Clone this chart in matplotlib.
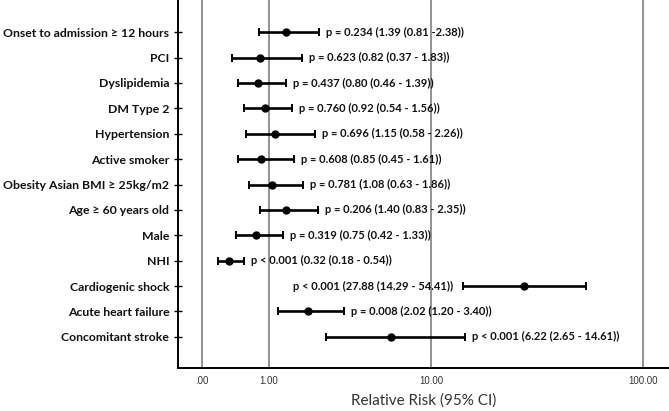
import numpy as np
import matplotlib
matplotlib.use("Agg")
import matplotlib.pyplot as plt

labels = ["Onset to admission \u2265 12 hours", "PCI", "Dyslipidemia", "DM Type 2",
          "Hypertension", "Active smoker", "Obesity Asian BMI \u2265 25kg/m2",
          "Age \u2265 60 years old", "Male", "NHI", "Cardiogenic shock",
          "Acute heart failure", "Concomitant stroke"]
rr = [1.39, 0.82, 0.80, 0.92, 1.15, 0.85, 1.08, 1.40, 0.75, 0.32, 27.88, 2.02, 6.22]
lo = [0.81, 0.37, 0.46, 0.54, 0.58, 0.45, 0.63, 0.83, 0.42, 0.18, 14.29, 1.20, 2.65]
hi = [2.38, 1.83, 1.39, 1.56, 2.26, 1.61, 1.86, 2.35, 1.33, 0.54, 54.41, 3.40, 14.61]
pvals = ["= 0.234", "= 0.623", "= 0.437", "= 0.760", "= 0.696", "= 0.608", "= 0.781",
         "= 0.206", "= 0.319", "< 0.001", "< 0.001", "= 0.008", "< 0.001"]
ci_sep = [" -", " - ", " - ", " - ", " - ", " - ", " - ", " - ", " - ", " - ", " - ", " - ", " - "]
xticks = [0, 1, 10, 100]
xticklabels = [".00", "1.00", "10.00", "100.00"]

def fwd(x):
    return np.log10(np.clip(np.asarray(x, dtype=float) + 1.0, 1e-9, None))

def inv(u):
    return 10.0 ** np.asarray(u, dtype=float) - 1.0

fig = plt.figure(figsize=(6.69, 4.11), dpi=100)
ax = fig.add_axes([177.7 / 669, 43 / 411, 1 - 177.7 / 669, 1 - 43 / 411])
ax.set_xscale("function", functions=(fwd, inv))

n = len(labels)
ypos = np.arange(n)[::-1]

for xv in xticks:
    ax.axvline(xv, color="#7f7f7f", lw=1.2, zorder=1)

rr_a = np.array(rr); lo_a = np.array(lo); hi_a = np.array(hi)
ax.errorbar(rr_a, ypos, xerr=[rr_a - lo_a, hi_a - rr_a], fmt="o", color="black",
            ecolor="black", elinewidth=1.9, capsize=3, capthick=1.4, markersize=5, zorder=3)

font_txt = dict(family="Lato", weight="bold", size=8.0, color="#111111")
for i in range(n):
    txt = f"p {pvals[i]} ({rr[i]:.2f} ({lo[i]:.2f}{ci_sep[i]}{hi[i]:.2f}))"
    if labels[i] == "Cardiogenic shock":
        ax.annotate(txt, (lo[i], ypos[i]), xytext=(-7, 0), textcoords="offset points",
                    ha="right", va="center", **font_txt)
    else:
        ax.annotate(txt, (hi[i], ypos[i]), xytext=(5, 0), textcoords="offset points",
                    ha="left", va="center", **font_txt)

ax.set_xlim(-0.227, 131)
ax.set_ylim(-1.23, n - 1 + 1.27)
ax.set_yticks(ypos)
ax.set_yticklabels(labels, family="Lato", weight="bold", size=8.8, color="#111111")
ax.tick_params(axis="y", direction="inout", length=6, width=1, pad=3)
ax.set_xticks(xticks)
ax.set_xticklabels(xticklabels, family="Liberation Sans", size=7, color="#333333")
ax.xaxis.set_minor_locator(matplotlib.ticker.NullLocator())
ax.tick_params(axis="x", length=0, pad=6)
ax.set_xlabel("Relative Risk (95% CI)", family="Lato", size=11, color="#333333", labelpad=5)

for s in ["top", "right"]:
    ax.spines[s].set_visible(False)
ax.spines["left"].set_linewidth(1.4)
ax.spines["bottom"].set_linewidth(1.4)

fig.savefig("out.png", dpi=100)
